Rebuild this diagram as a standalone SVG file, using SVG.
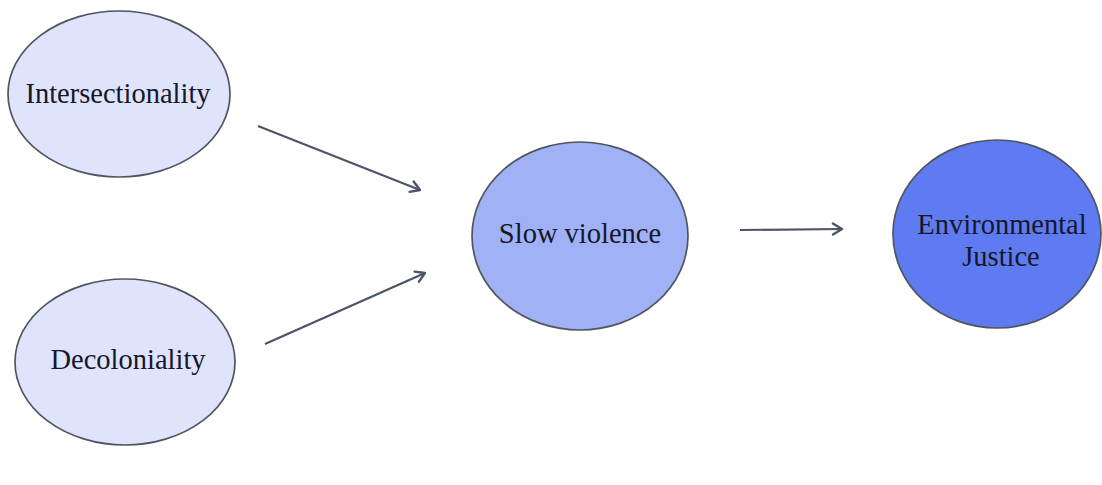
<svg xmlns="http://www.w3.org/2000/svg" width="1102" height="485" viewBox="0 0 1102 485">
  <style>
    .node { stroke: #50555f; stroke-width: 1.7; }
    .n1 { fill: #dfe3fb; }
    .n2 { fill: #a1b1f6; }
    .n3 { fill: #5f7bf2; }
    .lbl { font-family: "Liberation Serif", "Times New Roman", serif; font-size: 28.5px; fill: #16182a; text-anchor: middle; }
    .conn { stroke: #4b5568; stroke-width: 2.2; fill: none; marker-end: url(#arrow); }
  </style>
  <defs>
    <marker id="arrow" viewBox="0 0 14 14" refX="12" refY="7" markerWidth="14" markerHeight="14" markerUnits="userSpaceOnUse" orient="auto">
      <path d="M3,1.5 L12,7 L3,12.5" fill="none" stroke="#4b5568" stroke-width="2.4" stroke-linecap="round" stroke-linejoin="round"/>
    </marker>
  </defs>
  <rect width="1102" height="485" fill="#ffffff"/>
  <g id="connectors">
    <line class="conn" x1="258" y1="126" x2="420" y2="190"/>
    <line class="conn" x1="265" y1="344" x2="425" y2="273"/>
    <line class="conn" x1="740" y1="230" x2="842" y2="229"/>
  </g>
  <g id="node-intersectionality">
    <ellipse class="node n1" cx="119" cy="94" rx="111" ry="83"/>
    <text class="lbl" x="118" y="103">Intersectionality</text>
  </g>
  <g id="node-decoloniality">
    <ellipse class="node n1" cx="125" cy="362" rx="110" ry="83"/>
    <text class="lbl" x="128" y="369">Decoloniality</text>
  </g>
  <g id="node-slow-violence">
    <ellipse class="node n2" cx="580" cy="236" rx="108" ry="94"/>
    <text class="lbl" x="580" y="243">Slow violence</text>
  </g>
  <g id="node-environmental-justice">
    <ellipse class="node n3" cx="997" cy="234" rx="104" ry="94"/>
    <text class="lbl" x="1002" y="234">Environmental</text>
    <text class="lbl" x="1001" y="266">Justice</text>
  </g>
</svg>
